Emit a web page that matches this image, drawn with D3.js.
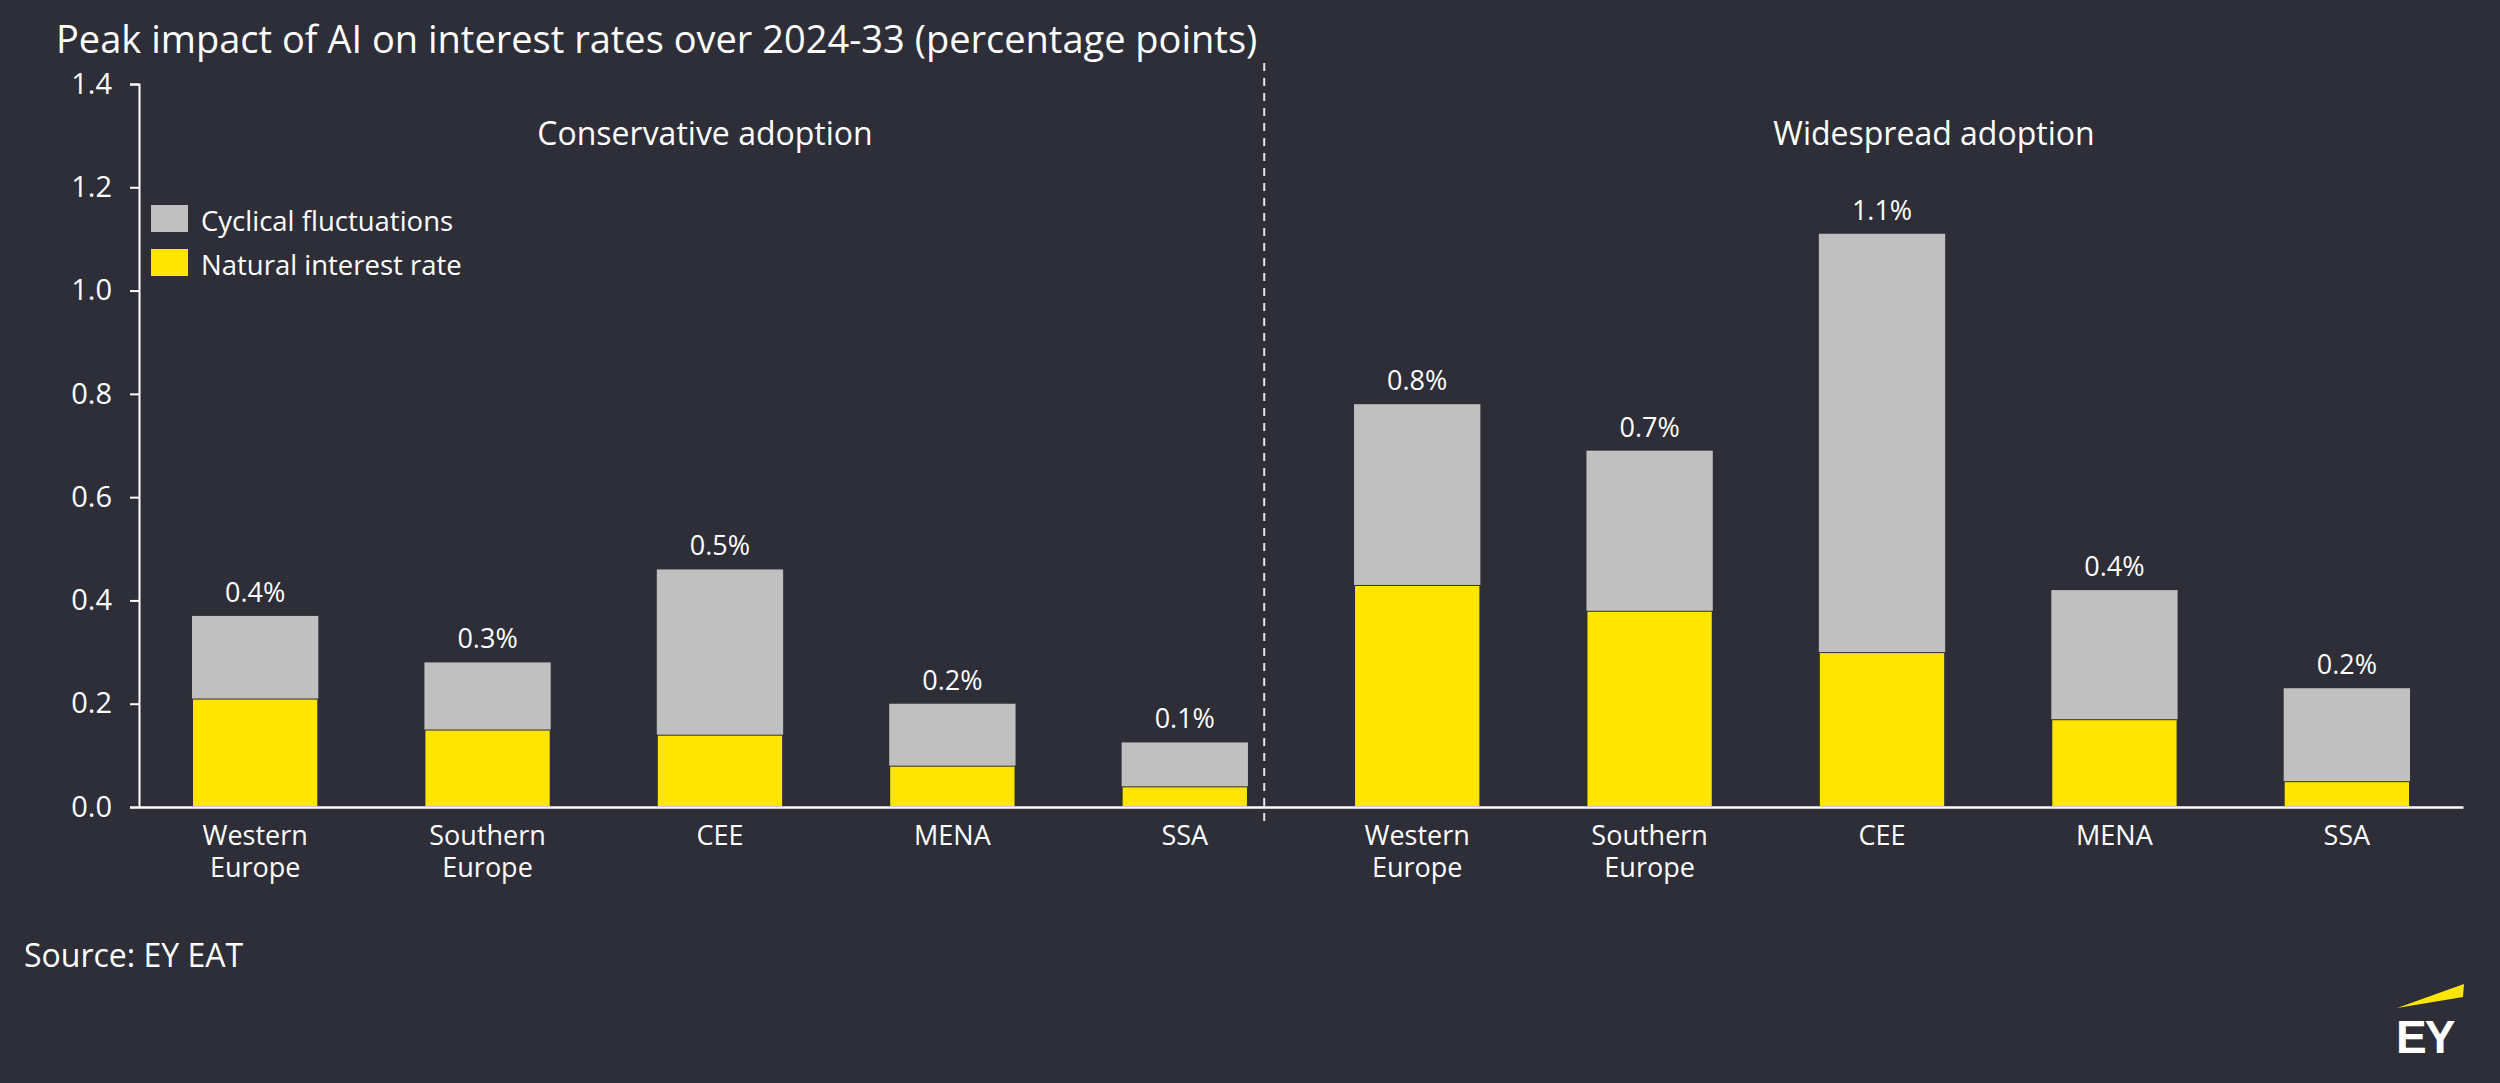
<!DOCTYPE html>
<html>
<head>
<meta charset="utf-8">
<script src="https://cdn.jsdelivr.net/npm/d3@7"></script>
<style>
  body { margin: 0; background: #2e2e38; }
  svg { display: block; }
  text { font-family: "Open Sans", sans-serif; fill: #ffffff; }
</style>
</head>
<body>
<div id="chart"></div>
<script>
const scenarios = ["Conservative adoption", "Widespread adoption"]
const regions = [["Western", "Europe"], ["Southern", "Europe"], ["CEE"], ["MENA"], ["SSA"]]
const seriesNames = ["Cyclical fluctuations", "Natural interest rate"]
// conservative first, then widespread
const natural = [0.21, 0.15, 0.14, 0.08, 0.04, 0.43, 0.38, 0.30, 0.17, 0.05]
const cyclical = [0.16, 0.13, 0.32, 0.12, 0.085, 0.35, 0.31, 0.81, 0.25, 0.18]
const totalLabels = ["0.4%", "0.3%", "0.5%", "0.2%", "0.1%", "0.8%", "0.7%", "1.1%", "0.4%", "0.2%"]
const yTicks = [0, 0.2, 0.4, 0.6, 0.8, 1.0, 1.2, 1.4]

const W = 2500, H = 1083
const bg = "#2e2e38", grey = "#c0c0c0", yellow = "#ffe600"

const rows = []
scenarios.forEach((s, si) => {
    regions.forEach((r, ri) => {
        const i = si * regions.length + ri
        rows.push({ id: si + "-" + ri, lines: r, natural: natural[i], cyclical: cyclical[i], label: totalLabels[i] })
    })
})

const x = d3.scaleBand()
    .domain(rows.map(d => d.id))
    .range([139, 2463])
    .paddingInner(0.4565)
    .paddingOuter(0.228)

const y = d3.scaleLinear().domain([0, 1.4]).range([807, 84])

const svg = d3.select('#chart').append('svg')
    .attr('width', W)
    .attr('height', H)

svg.append('rect').attr('width', W).attr('height', H).attr('fill', bg)

// title
svg.append('text')
    .attr('x', 56).attr('y', 53)
    .style('font-size', '38px')
    .text('Peak impact of AI on interest rates over 2024-33 (percentage points)')

// stacked bars
const stack = d3.stack().keys(["natural", "cyclical"])(rows)
const colors = { natural: yellow, cyclical: grey }

svg.selectAll('g.layer')
    .data(stack)
    .join('g')
    .attr('class', 'layer')
    .attr('fill', d => colors[d.key])
    .selectAll('rect')
    .data(d => d.map(v => Object.assign(v, { key: d.key })))
    .join('rect')
    .attr('x', d => x(d.data.id))
    .attr('width', x.bandwidth())
    .attr('y', d => y(d[1]))
    .attr('height', d => y(d[0]) - y(d[1]))
    .attr('stroke', d => d.key === 'natural' ? bg : 'none')
    .attr('stroke-width', 2)

// value labels
svg.selectAll('text.val')
    .data(rows)
    .join('text')
    .attr('class', 'val')
    .attr('x', d => x(d.id) + x.bandwidth() / 2)
    .attr('y', d => y(d.natural + d.cyclical) - 14)
    .attr('text-anchor', 'middle')
    .style('font-size', '27px')
    .text(d => d.label)

// y axis
const yAxis = svg.append('g')
    .attr('transform', 'translate(139,0)')
    .call(d3.axisLeft(y).tickValues(yTicks).tickFormat(d3.format('.1f')).tickSize(9).tickPadding(18))
yAxis.selectAll('path, line').attr('stroke', '#ffffff').attr('stroke-width', 2)
yAxis.selectAll('text').attr('fill', '#ffffff').style('font-size', '29px').style('font-family', '"Open Sans", sans-serif')

// x axis
const xAxis = svg.append('g')
    .attr('transform', 'translate(0,' + y(0) + ')')
    .call(d3.axisBottom(x).tickSize(0).tickFormat(''))
xAxis.select('.domain').attr('stroke', '#ffffff').attr('stroke-width', 2.5)

const xl = svg.selectAll('text.xl')
    .data(rows)
    .join('text')
    .attr('class', 'xl')
    .attr('text-anchor', 'middle')
    .style('font-size', '27px')
xl.selectAll('tspan')
    .data(d => d.lines.map(l => ({ l, cx: x(d.id) + x.bandwidth() / 2 })))
    .join('tspan')
    .attr('x', d => d.cx)
    .attr('y', (d, i) => y(0) + 38 + i * 32)
    .text(d => d.l)

// divider between scenarios
const divX = x(rows[4].id) + x.bandwidth() + x.step() * 0.07
svg.append('line')
    .attr('x1', divX).attr('x2', divX)
    .attr('y1', 63).attr('y2', 828)
    .attr('stroke', '#e6e6e6')
    .attr('stroke-width', 2)
    .attr('stroke-dasharray', '8,7')

// scenario labels
const scenX = [705, 1934]
svg.selectAll('text.scen')
    .data(scenarios)
    .join('text')
    .attr('class', 'scen')
    .attr('x', (d, i) => scenX[i])
    .attr('y', 145)
    .attr('text-anchor', 'middle')
    .style('font-size', '32px')
    .text(d => d)

// legend
const legend = svg.append('g').attr('transform', 'translate(151,205)')
const lg = legend.selectAll('g')
    .data(seriesNames)
    .join('g')
    .attr('transform', (d, i) => 'translate(0,' + i * 44 + ')')
lg.append('rect')
    .attr('width', 37).attr('height', 27)
    .attr('fill', (d, i) => i === 0 ? grey : yellow)
lg.append('text')
    .attr('x', 50).attr('y', 26)
    .style('font-size', '27.5px')
    .text(d => d)

// source
svg.append('text')
    .attr('x', 24).attr('y', 967)
    .style('font-size', '32px')
    .text('Source: EY EAT')

// logo
svg.append('polygon')
    .attr('points', '2397,1008 2464,984 2463,997')
    .attr('fill', yellow)
svg.append('text')
    .attr('x', 2396).attr('y', 1053)
    .style('font-family', '"Liberation Sans", Arial, sans-serif')
    .style('font-weight', 'bold')
    .style('font-size', '46px')
    .style('letter-spacing', '-2px')
    .text('EY')
</script>
</body>
</html>
